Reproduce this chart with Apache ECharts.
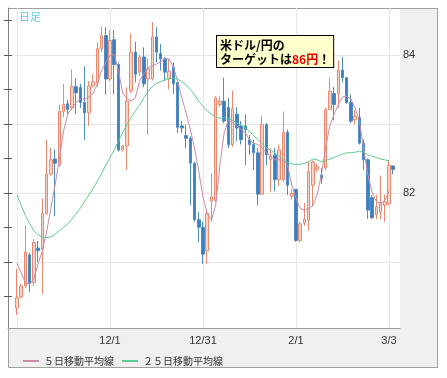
<!DOCTYPE html>
<html lang="ja">
<head>
  <meta charset="UTF-8">
  <title>米ドル/円 日足</title>
  <script src="https://cdn.jsdelivr.net/npm/echarts@6/dist/echarts.min.js"></script>
  <style>
    html, body { margin: 0; padding: 0; background: #fff; }
    #main { width: 447px; height: 378px; }
  </style>
</head>
<body>
  <div id="main"></div>

  <script>
    // 日付（平日のみ）
    const dates = [
      '11/1','11/2','11/3','11/4','11/5','11/8','11/9','11/10','11/11','11/12','11/15','11/16','11/17','11/18','11/19','11/22','11/23','11/24','11/25','11/26','11/29','11/30',
      '12/1','12/2','12/3','12/6','12/7','12/8','12/9','12/10','12/13','12/14','12/15','12/16','12/17','12/20','12/21','12/22','12/23','12/24','12/27','12/28','12/29','12/30','12/31',
      '1/3','1/4','1/5','1/6','1/7','1/10','1/11','1/12','1/13','1/14','1/17','1/18','1/19','1/20','1/21','1/24','1/25','1/26','1/27','1/28','1/31',
      '2/1','2/2','2/3','2/4','2/7','2/8','2/9','2/10','2/11','2/14','2/15','2/16','2/17','2/18','2/21','2/22','2/23','2/24','2/25','2/28',
      '3/1','3/2','3/3','3/4'
    ]
    // 始値・終値・安値・高値
    const openP = [
      80.33,80.49,80.65,81.10,80.70,81.20,81.18,81.70,82.27,82.49,82.40,83.18,83.29,83.23,83.54,83.53,83.31,83.16,83.55,83.59,84.09,84.28,
      83.65,84.22,83.86,82.62,82.68,83.48,84.04,83.75,83.97,83.65,83.65,84.26,84.02,83.94,83.65,83.82,83.60,82.97,82.83,82.79,82.43,81.61,81.50,
      81.16,81.88,81.89,83.28,83.33,83.24,82.70,83.14,82.97,82.97,82.77,82.70,82.58,81.98,82.99,82.48,82.55,82.19,82.19,82.88,81.95,
      82.05,81.31,81.56,81.60,82.11,82.34,82.26,82.36,83.21,83.44,83.44,83.78,83.67,83.31,83.06,83.09,82.72,82.48,81.93,81.68,
      81.72,81.82,81.84,82.39
    ]
    const closeP = [
      80.48,80.65,81.14,80.69,81.28,81.16,81.70,82.27,82.48,82.43,83.18,83.28,83.21,83.54,83.45,83.31,83.16,83.55,83.61,84.09,84.28,83.65,
      84.21,83.86,82.62,82.68,83.33,84.04,83.72,83.97,83.58,83.80,84.26,84.04,83.94,83.75,83.76,83.58,82.95,82.94,82.79,82.43,81.61,81.50,81.11,
      81.70,81.94,83.38,83.33,83.04,82.70,83.22,82.94,82.77,82.92,82.70,82.58,81.98,82.99,82.55,82.53,82.19,82.62,82.88,82.11,81.99,
      81.31,81.55,81.62,82.31,82.45,82.38,82.21,83.21,83.47,83.28,83.78,83.67,83.31,83.04,83.11,82.72,82.48,81.75,81.64,81.80,
      81.86,81.87,82.40,82.34
    ]
    const lowP = [
      80.23,80.47,80.62,80.56,80.65,81.00,80.53,81.68,82.25,81.66,82.38,83.10,83.14,83.20,83.14,83.23,82.77,82.97,83.53,83.53,84.04,83.42,
      83.62,83.43,82.60,82.60,82.33,83.45,83.60,83.70,83.53,82.84,83.63,83.89,83.77,83.62,83.50,83.43,82.87,82.87,82.65,81.82,81.58,81.28,80.97,
      80.97,81.58,81.87,83.25,83.01,82.65,82.67,82.75,82.70,82.40,82.55,82.33,81.82,81.97,82.40,82.02,82.02,82.10,82.15,81.97,81.90,
      81.29,81.28,81.52,81.45,81.80,82.30,82.13,82.33,83.20,83.05,83.23,83.60,83.29,83.01,83.00,82.70,82.33,81.62,81.62,81.62,
      81.62,81.58,81.82,82.27
    ]
    const highP = [
      80.90,80.68,81.53,81.13,81.33,81.30,81.92,82.77,82.65,82.63,83.28,83.58,83.35,83.79,83.66,83.58,83.83,83.62,83.72,84.19,84.41,84.40,
      84.36,84.36,83.89,82.70,83.53,84.31,84.19,84.00,84.11,83.95,84.48,84.40,84.16,83.97,83.94,83.89,83.61,83.04,82.99,82.82,82.45,81.72,81.58,
      81.75,82.28,83.40,83.40,83.67,83.38,83.48,83.24,83.04,83.14,82.84,82.77,82.65,83.11,83.01,82.65,82.65,82.70,83.18,82.92,82.05,
      82.06,81.58,81.85,82.45,82.47,82.42,82.36,83.23,83.67,83.53,83.92,83.97,83.67,83.42,83.20,83.23,82.77,82.50,81.97,81.97,
      82.25,81.97,82.48,82.40
    ]
    // 移動平均線
    const ma5 = [
      80.98,80.84,80.70,80.67,80.76,80.97,81.16,81.43,81.77,82.11,82.48,82.89,83.14,83.23,83.31,83.36,83.36,83.39,83.44,83.58,83.77,83.89,
      83.99,84.01,83.77,83.45,83.37,83.33,83.38,83.62,83.73,83.81,83.84,83.87,83.90,83.95,83.94,83.82,83.62,83.38,83.16,82.92,82.65,82.31,81.94,
      81.70,81.60,81.82,82.40,82.87,83.05,83.02,82.97,82.92,82.87,82.77,82.72,82.70,82.65,82.58,82.53,82.48,82.48,82.47,82.40,82.11,
      81.92,81.77,81.75,81.77,81.82,81.97,82.26,82.65,82.97,83.14,83.28,83.39,83.40,83.36,83.23,83.04,82.65,82.26,82.01,81.88,
      81.84,81.89,82.02
    ]
    const ma25 = [
      81.97,81.82,81.67,81.55,81.45,81.39,81.36,81.35,81.36,81.40,81.45,81.50,81.55,81.62,81.70,81.78,81.87,81.97,82.06,82.17,82.28,82.40,
      82.51,82.62,82.75,82.87,82.99,83.09,83.19,83.27,83.38,83.47,83.54,83.59,83.61,83.64,83.66,83.66,83.65,83.61,83.57,83.50,83.42,83.33,83.25,
      83.19,83.14,83.10,83.08,83.09,83.08,83.05,83.01,82.98,82.94,82.89,82.83,82.77,82.71,82.65,82.62,82.58,82.53,82.48,82.44,82.42,
      82.41,82.41,82.43,82.45,82.49,82.48,82.45,82.47,82.49,82.51,82.54,82.56,82.58,82.58,82.59,82.60,82.59,82.55,82.53,82.51,
      82.49,82.48,82.46
    ]
    // 目盛り
    const halfTicks = [80.5, 81, 81.5, 82, 82.5, 83, 83.5, 84, 84.5]
    const gridTicks = [81, 82, 83, 84]
    const yLabels = [82, 84]
    const labelDates = ['12/1', '12/31', '2/1', '3/3']
    const gridDates = ['11/1', '12/1', '12/31', '2/1', '3/3']
    const yMin = 80.04
    const yMax = 84.68

    const font = '"Noto Sans CJK JP", sans-serif'
    // 左に2本、右に1本の空き
    const pad = (arr, blank) => [blank, blank].concat(arr, [blank])
    const cats = pad(dates, '')
    const candles = pad(dates.map((d, i) => [openP[i], closeP[i], lowP[i], highP[i]]), ['-', '-', '-', '-'])

    let myChart = echarts.init(document.getElementById('main'))

    let options = {
      animation: false,
      graphic: {
        elements: [
          // 外枠
          {
            type: 'rect', z: -5,
            shape: { x: 8.5, y: 8.5, width: 429, height: 359 },
            style: { fill: '#f0f0f0', stroke: '#a0a0a0', lineWidth: 1 }
          },
          {
            type: 'rect', z: -4,
            shape: { x: 9, y: 9, width: 391, height: 319 },
            style: { fill: '#fff' }
          },
          {
            type: 'text', left: 19, top: 11, z: 10,
            style: { text: '日足', fill: '#62c9f5', font: '11px ' + font }
          },
          {
            type: 'text', left: 216, top: 35, z: 10,
            style: {
              text: '米ドル/円の\nターゲットは{r|86円}！',
              fill: '#000',
              font: 'bold 12px ' + font,
              lineHeight: 14,
              backgroundColor: '#ffffcc',
              borderColor: '#000',
              borderWidth: 1,
              padding: [2, 3, 1, 3],
              rich: {
                r: { fill: '#e60000', font: 'bold 12px ' + font, lineHeight: 14 }
              }
            }
          }
        ]
      },
      legend: {
        left: 18, top: 351,
        icon: 'rect', itemWidth: 16, itemHeight: 2, itemGap: 8,
        textStyle: { fontSize: 10, color: '#333', fontFamily: font },
        data: ['５日移動平均線', '２５日移動平均線']
      },
      grid: [
        { left: 8, top: 8, width: 392, height: 320 },
        { left: 8.545, top: 8, width: 388.9, height: 320 }
      ],
      xAxis: [
        {
          gridIndex: 0, type: 'value', min: 0, max: 1,
          axisLine: { show: true, onZero: false, lineStyle: { color: '#999' } },
          axisTick: { show: false }, axisLabel: { show: false }, splitLine: { show: false }
        },
        {
          gridIndex: 1, type: 'category', data: cats, boundaryGap: false,
          axisLine: { show: false }, axisTick: { show: false },
          axisLabel: {
            interval: (i, v) => labelDates.includes(v),
            color: '#333', fontSize: 11, margin: 7, fontFamily: 'Liberation Sans'
          },
          splitLine: {
            show: true,
            interval: (i, v) => gridDates.includes(v),
            lineStyle: { color: '#e6e6e6' }
          }
        }
      ],
      yAxis: [
        {
          gridIndex: 0, position: 'right', min: yMin, max: yMax,
          axisLine: { show: true, lineStyle: { color: '#808080' } },
          axisTick: { show: true, inside: true, length: 4, customValues: halfTicks, lineStyle: { color: '#555' } },
          axisLabel: { customValues: yLabels, margin: 3, color: '#333', fontSize: 11, fontFamily: 'Liberation Sans' },
          splitLine: { show: false }
        },
        {
          gridIndex: 0, position: 'left', min: yMin, max: yMax,
          axisLine: { show: false },
          axisTick: { show: true, inside: true, length: 4, customValues: halfTicks, lineStyle: { color: '#555' } },
          axisLabel: { show: false },
          splitLine: { show: false }
        },
        {
          gridIndex: 0, position: 'left', min: yMin, max: yMax,
          axisLine: { show: false },
          axisTick: { show: false, customValues: gridTicks },
          axisLabel: { show: false },
          splitLine: { show: true, lineStyle: { color: '#e6e6e6' } }
        },
        { gridIndex: 1, min: yMin, max: yMax, show: false, splitLine: { show: false } }
      ],
      series: [
        {
          name: 'ローソク足',
          type: 'candlestick',
          xAxisIndex: 1, yAxisIndex: 3,
          barWidth: 3,
          itemStyle: {
            color: '#f8d3c6', borderColor: '#e98a70',
            color0: '#3d7ebf', borderColor0: '#4f8cc6',
            borderWidth: 1
          },
          data: candles
        },
        {
          name: '５日移動平均線',
          type: 'line',
          xAxisIndex: 1, yAxisIndex: 3,
          symbol: 'none',
          lineStyle: { width: 1, color: '#c98aa8' },
          itemStyle: { color: '#c98aa8' },
          data: pad(ma5, '-')
        },
        {
          name: '２５日移動平均線',
          type: 'line',
          xAxisIndex: 1, yAxisIndex: 3,
          symbol: 'none',
          lineStyle: { width: 1, color: '#5dcc92' },
          itemStyle: { color: '#5dcc92' },
          data: pad(ma25, '-')
        }
      ]
    }
    myChart.setOption(options)
  </script>
</body>
</html>
